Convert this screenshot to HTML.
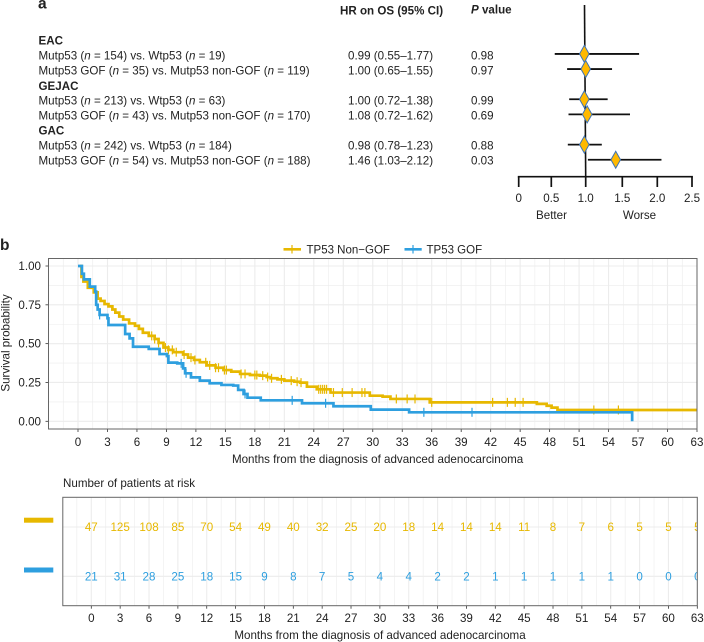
<!DOCTYPE html>
<html><head><meta charset="utf-8"><title>Survival figure</title>
<style>
html,body{margin:0;padding:0;background:#fff;width:704px;height:642px;overflow:hidden}
svg{display:block}
text{font-family:"Liberation Sans",sans-serif;fill:#222}
.t{font-size:11.6px}
.b{font-weight:bold}
.i{font-style:italic}
</style></head>
<body>
<svg id="fig" width="704" height="642" viewBox="0 0 704 642" xmlns="http://www.w3.org/2000/svg">
<g id="panel-a">
<text x="38" y="8.5" font-size="15.5" class="b">a</text>
<text x="340" y="14.7" class="t b">HR on OS (95% CI)</text>
<text x="471" y="13.3" class="t b"><tspan class="i">P</tspan> value</text>
<text x="38.5" y="44.5" class="t b">EAC</text>
<text x="38.5" y="59.7" class="t">Mutp53 (<tspan class="i">n</tspan> = 154) vs. Wtp53 (<tspan class="i">n</tspan> = 19)</text>
<text x="38.5" y="74.7" class="t">Mutp53 GOF (<tspan class="i">n</tspan> = 35) vs. Mutp53 non-GOF (<tspan class="i">n</tspan> = 119)</text>
<text x="38.5" y="89.8" class="t b">GEJAC</text>
<text x="38.5" y="104.7" class="t">Mutp53 (<tspan class="i">n</tspan> = 213) vs. Wtp53 (<tspan class="i">n</tspan> = 63)</text>
<text x="38.5" y="119.6" class="t">Mutp53 GOF (<tspan class="i">n</tspan> = 43) vs. Mutp53 non-GOF (<tspan class="i">n</tspan> = 170)</text>
<text x="38.5" y="134.6" class="t b">GAC</text>
<text x="38.5" y="149.6" class="t">Mutp53 (<tspan class="i">n</tspan> = 242) vs. Wtp53 (<tspan class="i">n</tspan> = 184)</text>
<text x="38.5" y="164.6" class="t">Mutp53 GOF (<tspan class="i">n</tspan> = 54) vs. Mutp53 non-GOF (<tspan class="i">n</tspan> = 188)</text>
<text x="348" y="59.7" class="t">0.99 (0.55–1.77)</text>
<text x="348" y="74.7" class="t">1.00 (0.65–1.55)</text>
<text x="348" y="104.7" class="t">1.00 (0.72–1.38)</text>
<text x="348" y="119.6" class="t">1.08 (0.72–1.62)</text>
<text x="348" y="149.6" class="t">0.98 (0.78–1.23)</text>
<text x="348" y="164.6" class="t">1.46 (1.03–2.12)</text>
<text x="471" y="59.7" class="t">0.98</text>
<text x="471" y="74.7" class="t">0.97</text>
<text x="471" y="104.7" class="t">0.99</text>
<text x="471" y="119.6" class="t">0.69</text>
<text x="471" y="149.6" class="t">0.88</text>
<text x="471" y="164.6" class="t">0.03</text>
<text x="551.5" y="219" class="t" text-anchor="middle">Better</text>
<text x="639.5" y="219" class="t" text-anchor="middle">Worse</text>
</g>
<text x="0" y="250" font-size="15.5" class="b">b</text>
<g id="km"></g>
<g id="legend">
<line x1="283.5" x2="301" y1="249.3" y2="249.3" stroke="#e7b800" stroke-width="2.6"/>
<line x1="292" x2="292" y1="245" y2="253.5" stroke="#e7b800" stroke-width="1.2"/>
<text x="306.5" y="253.5" font-size="11.5">TP53 Non−GOF</text>
<line x1="404.5" x2="421.7" y1="249.3" y2="249.3" stroke="#2e9fdf" stroke-width="2.6"/>
<line x1="413" x2="413" y1="245" y2="253.5" stroke="#2e9fdf" stroke-width="1.2"/>
<text x="426.5" y="253.5" font-size="11.5">TP53 GOF</text>
</g>
<text x="377.6" y="463" font-size="11.6" text-anchor="middle">Months from the diagnosis of advanced adenocarcinoma</text>
<text transform="translate(9.5,343) rotate(-90)" font-size="11.6" text-anchor="middle">Survival probability</text>
<text x="63" y="487" font-size="11.6">Number of patients at risk</text>
<rect x="24" y="517.7" width="29.3" height="5" fill="#e7b800"/>
<rect x="24" y="567.5" width="29.3" height="5" fill="#2e9fdf"/>
<g id="risk"></g>
<text x="380" y="639" font-size="11.6" text-anchor="middle">Months from the diagnosis of advanced adenocarcinoma</text>
<g id="forest"></g>
</svg>
<script>
// Forest plot values as drawn in the figure
const forestTicks = [0, 0.5, 1.0, 1.5, 2.0, 2.5];
const forestTickLabels = ['0', '0.5', '1.0', '1.5', '2.0', '2.5'];
const forestCenter = [0.98, 1.0, 0.98, 1.02, 0.98, 1.41];
const forestLower = [0.55, 0.73, 0.76, 0.75, 0.74, 1.03];
const forestUpper = [1.74, 1.36, 1.3, 1.61, 1.22, 2.06];
const forestRows = [1, 2, 4, 5, 7, 8];

// Survival curves
const nonGofTimes = [0.2,0.35,0.55,1.0,1.6,2.0,2.3,2.7,3.1,3.5,3.8,4.2,4.6,5.2,5.8,6.2,6.6,7.2,7.8,8.2,8.7,9.2,9.7,10.7,11.2,11.8,12.4,13.1,14,14.8,15.6,16.5,17.5,18.5,19.2,19.6,20.3,21,22,22.6,23.3,24.3,25.7,29.7,31,31.8,35.8,46.7,47.7,48.2,48.8,63];
const nonGofSurv = [1.0,0.93,0.9,0.86,0.83,0.79,0.775,0.755,0.74,0.72,0.7,0.675,0.655,0.63,0.615,0.595,0.57,0.55,0.53,0.505,0.475,0.46,0.445,0.43,0.41,0.395,0.38,0.36,0.345,0.33,0.32,0.305,0.298,0.294,0.285,0.277,0.27,0.262,0.255,0.249,0.223,0.206,0.185,0.165,0.159,0.144,0.122,0.112,0.1,0.088,0.073,0.073];
const nonGofCensor = [7.5,7.8,8.2,8.9,9.2,9.6,10.0,10.8,11.5,11.9,13,13.4,14,14.3,14.9,15.1,16.6,17,18,18.2,18.8,19.3,19.7,20.7,21.7,22.3,22.7,24.5,24.7,24.9,25.1,25.3,26,26.9,27.9,28.9,29.2,32.4,33.5,34.3,36,42.2,43.7,44.5,45.3,52.5,55];
const gofTimes = [0,0.4,0.6,1.2,1.75,1.85,2.0,2.2,3,3.1,4.6,4.8,5.25,5.6,7.2,8.3,9.05,9.2,10.1,10.7,10.9,11.5,12.4,13.4,14.6,15.8,16.3,16.85,17.25,18.6,22.8,26,29.8,33.7,56.4];
const gofSurv = [1.0,0.95,0.914,0.867,0.835,0.75,0.72,0.685,0.663,0.62,0.62,0.562,0.534,0.48,0.466,0.433,0.42,0.378,0.373,0.341,0.309,0.283,0.262,0.245,0.234,0.23,0.202,0.176,0.152,0.135,0.116,0.097,0.075,0.058,0.0];
const gofCensor = [2.2,10.5,11,17,21.8,25.2,35.2,40.1];
const kmYTicks = [0, 0.25, 0.5, 0.75, 1];
const kmYLabels = ['0.00', '0.25', '0.50', '0.75', '1.00'];

// Risk table
const months = [0,3,6,9,12,15,18,21,24,27,30,33,36,39,42,45,48,51,54,57,60,63];
const riskNonGof = [47,125,108,85,70,54,49,40,32,25,20,18,14,14,14,11,8,7,6,5,5,5];
const riskGof = [21,31,28,25,18,15,9,8,7,5,4,4,2,2,1,1,1,1,1,0,0,0];

const NS = 'http://www.w3.org/2000/svg';
const YELLOW = '#e7b800', BLUE = '#2e9fdf', GRID = '#ececec', BORDER = '#666';
function mk(parent, tag, attrs, txt) {
  const el = document.createElementNS(NS, tag);
  for (const k in attrs) el.setAttribute(k, attrs[k]);
  if (txt !== undefined) el.textContent = txt;
  parent.appendChild(el);
  return el;
}
let el;

// ---------- forest ----------
const forest = document.getElementById('forest');
function fx(v) {
  const d = [0, 0.5, 1, 1.5, 2, 2.5], r = [518.7, 551.3, 585.7, 622.3, 657.3, 692];
  let i = 0;
  while (i < d.length - 2 && v > d[i + 1]) i++;
  return r[i] + (v - d[i]) / (d[i + 1] - d[i]) * (r[i + 1] - r[i]);
}
function fy(row) { return 38.8 + row * 15.12; }
el = mk(forest, 'line', {x1: 584.5, x2: fx(1), y1: 5, y2: 177, stroke: '#111', 'stroke-width': 1.6});


el = mk(forest, 'line', {x1: fx(0) - 0.9, x2: fx(2.5) + 0.9, y1: 176.7, y2: 176.7, stroke: '#111', 'stroke-width': 1.7});


forestTicks.forEach((v, i) => {
  let e = mk(forest, 'line', {x1: fx(v), x2: fx(v), y1: 176.7, y2: 187, stroke: '#111', 'stroke-width': 1.7});
  
  
  e = mk(forest, 'text', {x: fx(v), y: 202, 'font-size': 11.6, 'text-anchor': 'middle'}, forestTickLabels[i]);
  
  
});
forestCenter.forEach((c, i) => {
  const y = fy(forestRows[i]), cx = fx(c);
  let e = mk(forest, 'line', {x1: fx(forestLower[i]), x2: fx(forestUpper[i]), y1: y, y2: y, stroke: '#111', 'stroke-width': 1.8});
  
  
  e = mk(forest, 'polygon', {points: [cx - 4.8, y, cx, y - 8.5, cx + 4.8, y, cx, y + 8.5].join(' '), fill: '#ffb900', stroke: '#3f74b5', 'stroke-width': 1});
  
  
});

// ---------- survival plot ----------
const km = document.getElementById('km');
const kmX = t => 78 + t * 619 / 63;
const kmY = s => 421.3 - s * 155.3;
const KL = 48.5, KR = 697, KT = 258.5, KB = 429;
for (let s = 0.125; s < 1; s += 0.25) {
  el = mk(km, 'line', {x1: KL, x2: KR, y1: kmY(s), y2: kmY(s), stroke: GRID, 'stroke-width': 0.6});
  
  
}
for (let t = -1.5; t < 63; t += 3) {
  el = mk(km, 'line', {x1: kmX(t), x2: kmX(t), y1: KT, y2: KB, stroke: GRID, 'stroke-width': 0.6});
  
  
}
kmYTicks.forEach((s, i) => {
  let e = mk(km, 'line', {x1: KL, x2: KR, y1: kmY(s), y2: kmY(s), stroke: GRID, 'stroke-width': 1.1});
  
  
  e = mk(km, 'line', {x1: 45.5, x2: KL, y1: kmY(s), y2: kmY(s), stroke: '#333', 'stroke-width': 0.8});
  
  
  e = mk(km, 'text', {x: 41, y: kmY(s) + 4, 'font-size': 11.6, 'text-anchor': 'end'}, kmYLabels[i]);
  
  
});
months.forEach(m => {
  let e = mk(km, 'line', {x1: kmX(m), x2: kmX(m), y1: KT, y2: KB, stroke: GRID, 'stroke-width': 1.1});
  
  
  e = mk(km, 'line', {x1: kmX(m), x2: kmX(m), y1: KB, y2: KB + 3, stroke: '#333', 'stroke-width': 0.8});
  
  
  e = mk(km, 'text', {x: kmX(m), y: 446.2, 'font-size': 11.6, 'text-anchor': 'middle'}, String(m));
  
  
});
function stepPath(ts, ss) {
  let d = 'M' + kmX(ts[0]) + ' ' + kmY(ss[0]);
  for (let i = 1; i < ts.length; i++) {
    d += 'H' + kmX(ts[i]) + 'V' + kmY(ss[i]);
  }
  return d;
}
function survAt(ts, ss, t) {
  let v = ss[0];
  for (let i = 0; i < ts.length; i++) { if (ts[i] <= t) v = ss[i]; }
  return v;
}
el = mk(km, 'path', {d: stepPath(nonGofTimes, nonGofSurv), fill: 'none', stroke: YELLOW, 'stroke-width': 2.7});


nonGofCensor.forEach(t => {
  const y = kmY(survAt(nonGofTimes, nonGofSurv, t));
  const e = mk(km, 'line', {x1: kmX(t), x2: kmX(t), y1: y - 4.5, y2: y + 4.5, stroke: YELLOW, 'stroke-width': 1.2});
  
  
});
el = mk(km, 'path', {d: stepPath(gofTimes, gofSurv), fill: 'none', stroke: BLUE, 'stroke-width': 2.7});


gofCensor.forEach(t => {
  const y = kmY(survAt(gofTimes, gofSurv, t));
  const e = mk(km, 'line', {x1: kmX(t), x2: kmX(t), y1: y - 4.5, y2: y + 4.5, stroke: BLUE, 'stroke-width': 1.2});
  
  
});
el = mk(km, 'rect', {x: KL, y: KT, width: KR - KL, height: KB - KT, fill: 'none', stroke: BORDER, 'stroke-width': 1});



// ---------- risk table ----------
const risk = document.getElementById('risk');
const rX = m => 91.3 + m * 606 / 63;
const RL = 62.8, RR = 697.3, RT = 497.3, RB = 605.7, ROW1 = 527, ROW2 = 576.3;
const clip = mk(risk, 'clipPath', {id: 'riskClip'});
mk(clip, 'rect', {x: RL, y: RT, width: RR - RL, height: RB - RT});
[ROW1, ROW2].forEach(y => {
  const e = mk(risk, 'line', {x1: RL, x2: RR, y1: y, y2: y, stroke: GRID, 'stroke-width': 1.1});
  
  
});
for (let t = -1.5; t < 63; t += 3) {
  el = mk(risk, 'line', {x1: rX(t), x2: rX(t), y1: RT, y2: RB, stroke: GRID, 'stroke-width': 0.6});
  
  
}
months.forEach((m, i) => {
  let e = mk(risk, 'line', {x1: rX(m), x2: rX(m), y1: RT, y2: RB, stroke: GRID, 'stroke-width': 1.1});
  
  
  e = mk(risk, 'line', {x1: rX(m), x2: rX(m), y1: RB, y2: RB + 3, stroke: '#333', 'stroke-width': 0.8});
  
  
  e = mk(risk, 'text', {x: rX(m), y: 622.2, 'font-size': 11.6, 'text-anchor': 'middle'}, String(m));
  
  
  e = mk(risk, 'text', {x: rX(m), y: ROW1 + 4.1, 'font-size': 11.6, 'text-anchor': 'middle', style: 'fill:' + YELLOW, 'clip-path': 'url(#riskClip)'}, String(riskNonGof[i]));
  
  
  e = mk(risk, 'text', {x: rX(m), y: ROW2 + 4.1, 'font-size': 11.6, 'text-anchor': 'middle', style: 'fill:' + BLUE, 'clip-path': 'url(#riskClip)'}, String(riskGof[i]));
  
  
});
el = mk(risk, 'rect', {x: RL, y: RT, width: RR - RL, height: RB - RT, fill: 'none', stroke: BORDER, 'stroke-width': 1});


</script>
</body></html>
